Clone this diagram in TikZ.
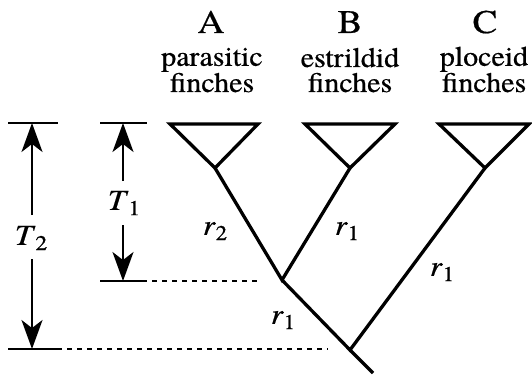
\documentclass[tikz,border=0pt]{standalone}
\usepackage{fontspec}
\setmainfont{texgyretermes}[Extension=.otf,UprightFont=*-regular,ItalicFont=*-italic,BoldFont=*-bold,BoldItalicFont=*-bolditalic,FakeBold=0.6]
\usetikzlibrary{arrows.meta}
\tikzset{
  branch/.style={line width=3.3pt, line join=miter},
  tick/.style={line width=2.6pt},
  dimline/.style={line width=2pt, -{Stealth[length=29pt,width=21pt,inset=8pt]}},
  dashline/.style={line width=2.4pt, dash pattern=on 5pt off 5pt},
  taxon/.style={align=center, font=\fontsize{28}{25}\selectfont, inner sep=0pt},
  letter/.style={font=\fontsize{33}{33}\selectfont, inner sep=0pt},
  rate/.style={font=\fontsize{29}{29}\selectfont, inner sep=0pt},
}
\newcommand{\sublab}[2]{\textit{#1}\raisebox{-0.4ex}{\fontsize{21}{21}\selectfont #2}}
\newcommand{\wide}[1]{\scalebox{1.07}[1]{#1}}
\newcommand{\wider}[1]{\scalebox{1.12}[1]{#1}}
\begin{document}
\begin{tikzpicture}[x=1pt,y=-1pt]
\useasboundingbox (0,0) rectangle (532,377);
% letters and names
\node[letter,anchor=base] (la) at (211,33) {\wider{A}};
\node[letter,anchor=base] (lb) at (350,33) {\wider{B}};
\node[letter,anchor=base] (lc) at (485,33) {\wider{C}};
\node[taxon,anchor=base] (na) at (212,92) {\wide{parasitic}\\\wide{finches}};
\node[taxon,anchor=base] (nb) at (350,92) {\wide{estrildid}\\\wide{finches}};
\node[taxon,anchor=base] (nc) at (484,92) {\wide{ploceid}\\\wide{finches}};
% triangles
\coordinate (a1) at (170,124); \coordinate (a2) at (258,124); \coordinate (aa) at (215,168);
\coordinate (b1) at (305,124); \coordinate (b2) at (395,124); \coordinate (ba) at (350,168);
\coordinate (c1) at (439,124); \coordinate (c2) at (529,124); \coordinate (ca) at (485,168);
\draw[branch] (a1) -- (a2) -- (aa) -- cycle;
\draw[branch] (b1) -- (b2) -- (ba) -- cycle;
\draw[branch] (c1) -- (c2) -- (ca) -- cycle;
% tree
\coordinate (j1) at (282,280);
\coordinate (j2) at (350,350);
\coordinate (root) at (373,373);
\draw[branch] (aa) -- (j1) -- (ba);
\draw[branch] (j1) -- (j2) -- (ca);
\draw[branch] (j2) -- (root);
% rate labels
\node[rate] (r2) at (215,231) {\wide{\sublab{r}{2}}};
\node[rate] (r1b) at (347,231) {\wide{\sublab{r}{1}}};
\node[rate] (r1c) at (442,272) {\wide{\sublab{r}{1}}};
\node[rate] (r1j) at (283,320) {\wide{\sublab{r}{1}}};
% dimension ticks
\coordinate (t2top0) at (8,123); \coordinate (t2top1) at (58,123);
\coordinate (t1top0) at (100,123); \coordinate (t1top1) at (147,123);
\coordinate (t1bot0) at (100,281); \coordinate (t1bot1) at (147,281);
\coordinate (t1dash) at (258,281);
\coordinate (t2bot0) at (8,349); \coordinate (t2bot1) at (62,349);
\coordinate (t2dash) at (328,349);
\draw[tick] (t2top0) -- (t2top1);
\draw[tick] (t1top0) -- (t1top1);
\draw[tick] (t1bot0) -- (t1bot1);
\draw[tick] (t2bot0) -- (t2bot1);
\draw[dashline] (t1bot1) ++(5,0) -- (t1dash);
\draw[dashline] (t2bot1) ++(5,0) -- (t2dash);
% T labels
\node[rate] (T2) at (31,238) {\wider{\sublab{T}{2}}};
\node[rate] (T1) at (124,203) {\wider{\sublab{T}{1}}};
\coordinate (t2u) at (32,123); \coordinate (t2d) at (32,349);
\coordinate (t1u) at (123,123); \coordinate (t1d) at (123,281);
\draw[dimline] (32,215) -- (t2u);
\draw[dimline] (32,259) -- (t2d);
\draw[dimline] (123,181) -- (t1u);
\draw[dimline] (123,225) -- (t1d);
\end{tikzpicture}
\end{document}
